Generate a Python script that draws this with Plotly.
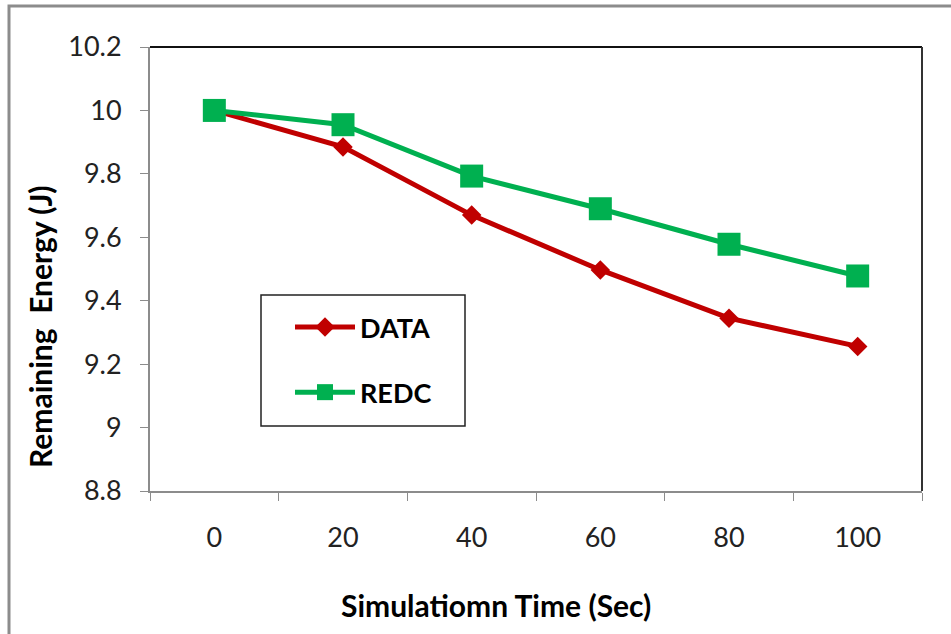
import plotly.graph_objects as go

times = ["0", "20", "40", "60", "80", "100"]
data_vals = [10.0, 9.885, 9.67, 9.497, 9.345, 9.256]
redc_vals = [10.0, 9.955, 9.793, 9.69, 9.578, 9.478]
y_ticks = [8.8, 9.0, 9.2, 9.4, 9.6, 9.8, 10.0, 10.2]
y_tick_text = ["8.8", "9", "9.2", "9.4", "9.6", "9.8", "10", "10.2"]

FONT = "Lato"
fig = go.Figure()
fig.add_trace(go.Scatter(
    x=times, y=data_vals, name="DATA", mode="lines+markers",
    line=dict(color="#C00000", width=5),
    marker=dict(symbol="diamond", size=15, color="#C00000"),
    legendgroup="a",
))
fig.add_trace(go.Scatter(
    x=times, y=redc_vals, name="REDC", mode="lines+markers",
    line=dict(color="#00B050", width=5),
    marker=dict(symbol="square", size=23, color="#00B050"),
    legendgroup="b",
))

W, H = 951, 634
L, R, T, B = 150, 29, 47, 143
pw, ph = W - L - R, H - T - B

def px(x):
    return (x - L) / pw

def py(y):
    return (H - B - y) / ph

fig.update_layout(
    width=W, height=H,
    margin=dict(l=L, r=R, t=T, b=B),
    paper_bgcolor="white", plot_bgcolor="white",
    font=dict(family=FONT, size=27, color="#222222"),
    showlegend=True,
    legend=dict(
        x=px(290), y=py(303), xanchor="left", yanchor="top",
        bgcolor="rgba(0,0,0,0)", borderwidth=0,
        font=dict(family=FONT, size=27, color="black", weight="bold"),
        tracegroupgap=27, itemwidth=60,
    ),
    xaxis=dict(
        type="category", range=[-0.5, 5.5], tickson="boundaries",
        ticks="outside", ticklen=8,
        tickcolor="#8c8c8c", showline=True, linecolor="#8c8c8c", linewidth=2,
        showgrid=False, zeroline=False, ticklabelstandoff=22,
        tickfont=dict(family=FONT, size=27, color="#222222"),
    ),
    yaxis=dict(
        range=[8.8, 10.2], tickvals=y_ticks, ticktext=y_tick_text,
        ticks="outside", ticklen=8, tickcolor="#8c8c8c",
        showline=True, linecolor="#8c8c8c", linewidth=2,
        showgrid=False, zeroline=False, ticklabelstandoff=13,
        tickfont=dict(family=FONT, size=27, color="#222222"),
    ),
    shapes=[
        dict(type="line", xref="paper", yref="paper", x0=0, x1=1, y0=1, y1=1,
             line=dict(color="#111111", width=2)),
        dict(type="line", xref="paper", yref="paper", x0=1, x1=1, y0=0, y1=1,
             line=dict(color="#333333", width=2)),
        dict(type="rect", xref="paper", yref="paper",
             x0=px(261), x1=px(465), y0=py(426), y1=py(295),
             line=dict(color="#222222", width=1.5)),
        dict(type="rect", xref="paper", yref="paper",
             x0=px(9), x1=px(1200), y0=py(900), y1=py(6),
             line=dict(color="#8c8c8c", width=3)),
    ],
    annotations=[
        dict(text="<b>Remaining  Energy (J)</b>", xref="paper", yref="paper",
             x=px(40), y=py(327), textangle=-90, showarrow=False,
             xanchor="center", yanchor="middle",
             font=dict(family=FONT, size=30, color="black")),
        dict(text="<b>Simulatiomn Time (Sec)</b>", xref="paper", yref="paper",
             x=px(496), y=py(605), showarrow=False,
             xanchor="center", yanchor="middle",
             font=dict(family=FONT, size=30, color="black")),
    ],
)

fig.write_html("out.html")
